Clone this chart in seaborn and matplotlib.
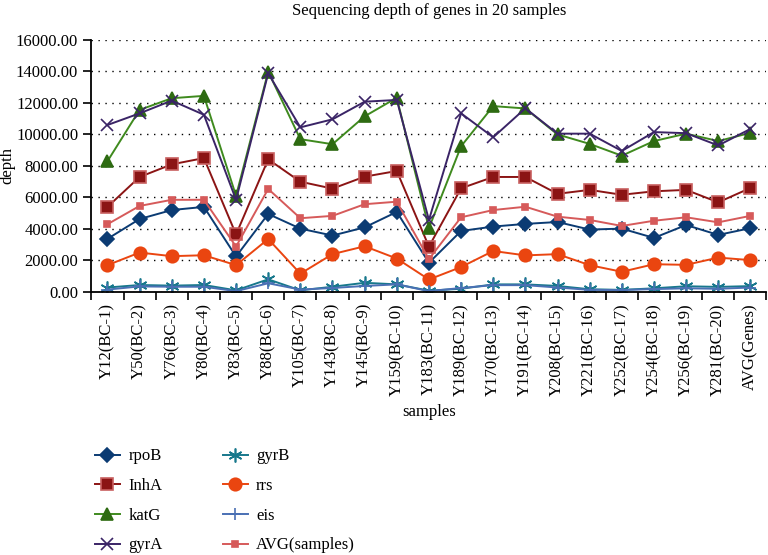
import numpy as np
import pandas as pd
import matplotlib
matplotlib.use("Agg")
import matplotlib.pyplot as plt
import seaborn as sns

samples = ["Y12(BC-1)", "Y50(BC-2)", "Y76(BC-3)", "Y80(BC-4)", "Y83(BC-5)",
           "Y88(BC-6)", "Y105(BC-7)", "Y143(BC-8)", "Y145(BC-9)", "Y159(BC-10)",
           "Y183(BC-11)", "Y189(BC-12)", "Y170(BC-13)", "Y191(BC-14)", "Y208(BC-15)",
           "Y221(BC-16)", "Y252(BC-17)", "Y254(BC-18)", "Y256(BC-19)", "Y281(BC-20)",
           "AVG(Genes)"]

rpoB = [3370, 4630, 5200, 5400, 2250, 4950, 4020, 3580, 4100, 5080,
        1850, 3870, 4150, 4320, 4440, 3960, 4020, 3430, 4250, 3620, 4050]
InhA = [5400, 7300, 8100, 8500, 3650, 8420, 7000, 6560, 7320, 7680,
        2880, 6580, 7300, 7300, 6230, 6480, 6170, 6390, 6480, 5690, 6600]
katG = [8300, 11560, 12300, 12450, 6100, 13990, 9700, 9380, 11150, 12330,
        4050, 9250, 11800, 11650, 10000, 9400, 8650, 9580, 10050, 9580, 10100]
gyrA = [10600, 11340, 12150, 11250, 5850, 13880, 10450, 10960, 12080, 12190,
        4570, 11340, 9820, 11660, 10050, 10050, 8950, 10150, 10080, 9300, 10350]
gyrB = [280, 440, 400, 440, 100, 800, 100, 330, 580, 480,
        80, 200, 480, 480, 380, 170, 130, 230, 360, 320, 370]
rrs = [1700, 2500, 2270, 2330, 1700, 3360, 1160, 2400, 2900, 2120,
       790, 1580, 2600, 2320, 2400, 1700, 1280, 1760, 1720, 2180, 2020]
eis = [150, 350, 330, 330, 50, 550, 150, 250, 380, 480,
       50, 250, 430, 430, 280, 130, 120, 180, 230, 200, 280]
avg_samples = [4300, 5460, 5850, 5850, 2880, 6540, 4680, 4830, 5570, 5730,
               2080, 4740, 5200, 5410, 4780, 4570, 4190, 4520, 4740, 4420, 4830]

# name, values, line colour, marker, marker size, marker face, marker edge
series = [
    ("rpoB", rpoB, "#0b3b73", "D", 7, "#0b3b73", "#0b3b73"),
    ("InhA", InhA, "#8b1414", "s", 9, "#8b1414", "#c86060"),
    ("katG", katG, "#3f8a1e", "^", 8.5, "#2e6b12", "#2e6b12"),
    ("gyrA", gyrA, "#3a2466", "x", 9, "#3a2466", "#3a2466"),
    ("gyrB", gyrB, "#17788c", (6, 2, 0), 10, "#17788c", "#17788c"),
    ("rrs", rrs, "#ea4510", "o", 9, "#ea4510", "#ea4510"),
    ("eis", eis, "#4a70b4", "+", 9, "#4a70b4", "#4a70b4"),
    ("AVG(samples)", avg_samples, "#d65a5a", "s", 4, "#d65a5a", "#d65a5a"),
]

plt.rcParams['font.family'] = ['Liberation Serif', 'DejaVu Serif']

fig = plt.figure(figsize=(7.68, 5.55), dpi=100)
ax = fig.add_axes([0.119, 0.474, 0.879, 0.454])

for name, vals, color, marker, ms, mfc, mec in series:
    df = pd.DataFrame({"sample": samples, "depth": vals})
    sns.lineplot(data=df, x="sample", y="depth", ax=ax, color=color, marker=marker,
                 markersize=ms, markerfacecolor=mfc, markeredgecolor=mec,
                 markeredgewidth=1.2, linewidth=1.4, label=name, sort=False,
                 legend=False)

ax.set_xlim(-0.5, len(samples) - 0.5)
ax.set_ylim(0, 16000)
yt = np.arange(0, 16001, 2000)
ax.set_yticks(yt)
ax.set_yticklabels([f"{v:.2f}" for v in yt], fontsize=12)
ax.set_xticks(range(len(samples)))
ax.set_xticklabels(samples, rotation=90, fontsize=12)
ax.set_xticks(np.arange(-0.5, len(samples), 1), minor=True)
ax.tick_params(axis='x', which='major', length=0, pad=8)
ax.tick_params(axis='x', which='minor', length=6, width=1.2, direction='out')
ax.tick_params(axis='y', length=6, width=1.2)
ax.yaxis.grid(True, linestyle=(0, (1, 4)), color='black', linewidth=1)
ax.set_axisbelow(True)
for s in ["top", "right"]:
    ax.spines[s].set_visible(False)
for s in ["left", "bottom"]:
    ax.spines[s].set_linewidth(1.3)

ax.set_xlabel("samples", fontsize=12, labelpad=6)
ax.set_ylabel("depth", fontsize=12)
ax.yaxis.set_label_coords(-0.113, 0.5)
ax.set_title("Sequencing depth of genes in 20 samples", fontsize=12, pad=18)

handles, labels = ax.get_legend_handles_labels()
fig.legend(handles, labels, ncol=2, loc='upper left', bbox_to_anchor=(0.115, 0.204),
           frameon=False, fontsize=12, labelspacing=0.82, handlelength=1.5,
           handletextpad=0.5, columnspacing=3.6, borderaxespad=0)

fig.savefig("out.png", dpi=100)
